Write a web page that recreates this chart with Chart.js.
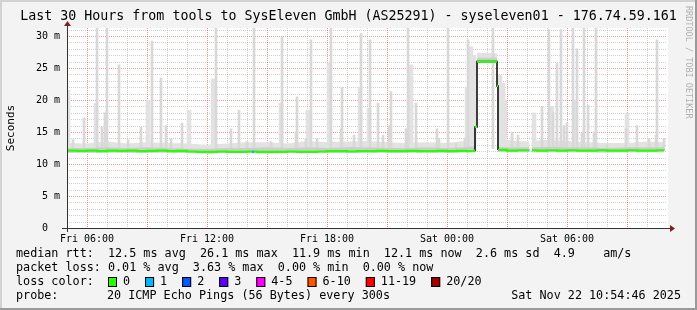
<!DOCTYPE html>
<html><head><meta charset="utf-8">
<script src="https://cdn.jsdelivr.net/npm/chart.js@4.4.1/dist/chart.umd.min.js"></script>
<style>html,body{margin:0;padding:0;background:#f3f3f3;}canvas{display:block}</style>
</head><body>
<canvas id="c" width="697" height="310"></canvas>
<script>
// ---------- text ----------
const titleText = "Last 30 Hours from tools to SysEleven GmbH (AS25291) - syseleven01 - 176.74.59.161";
const yAxisTitle = "Seconds";
const sideText = "RRDTOOL / TOBI OETIKER";
// ---------- ticks ----------
const xTickHours = [1, 7, 13, 19, 25];               // hours after Fri 05:00
const xTickLabels = ["Fri 06:00", "Fri 12:00", "Fri 18:00", "Sat 00:00", "Sat 06:00"];
const yTickValues = [0, 5, 10, 15, 20, 25, 30];      // milliseconds
const yTickLabels = ["0  ", "5 m", "10 m", "15 m", "20 m", "25 m", "30 m"];
// ---------- median rtt (ms), hours after Fri 05:00 ----------
const medianHours = [0,0.5,1,1.5,2,2.5,3,3.5,4,4.5,5,5.5,6,6.5,7,7.5,8,8.5,9,9.5,10,10.5,11,11.5,12,
  12.5,13,13.5,14,14.5,15,15.5,16,16.5,17,17.5,18,18.5,19,19.5,20,20.35,20.4,
  20.4,20.4,20.5,20.5,20.5,21.5,21.5,21.5,21.55,21.55,
  21.55,22,22.5,23.1,23.15,23.25,23.5,24,24.5,25,25.5,26,26.5,27,27.5,28,28.5,29,29.5,29.85];
const medianValues = [12.1,12.05,12.1,12.0,12.1,12.05,12.1,12.0,12.05,12.1,12.0,12.05,11.95,11.9,11.9,11.95,11.9,11.9,11.95,11.9,11.9,11.9,11.95,11.9,11.9,
  11.95,12.0,12.0,11.95,12.0,12.0,12.05,12.0,12.0,12.05,12.0,12.0,12.05,12.0,12.05,12.0,12.1,12.1,
  null,15.8,15.8,null,26.0,26.0,null,22.2,22.2,null,
  12.2,12.1,12.15,12.1,null,12.15,12.1,12.15,12.1,12.15,12.1,12.1,12.15,12.1,12.1,12.15,12.1,12.1,12.15,12.1];
// large median changes (drawn black)
const jumpHours = [20.35, 20.4, 20.5, 21.5, 21.55];
const jumpValues = [12.1, 15.8, 26.0, 22.2, 12.2];
// sample with 1 lost packet
const loss1Hours = [9.25, 9.35];
const loss1Values = [11.9, 11.9];
// ---------- smoke band ----------
const bandHours = [0,1,2,3,4,5,6,7,8,9,10,11,12,13,14,15,16,17,18,19,19.8,20.4,20.5,21.5,21.55,22,22.5,23.1,23.15,23.25,24,25,26,27,28,29,29.85];
const bandHigh  = [13.3,13.2,13.5,13.2,13.4,13.3,13.2,13.0,13.2,13.4,13.4,13.2,13.6,13.4,13.5,13.6,13.4,13.3,13.4,13.3,13.6,14.0,27.4,27.3,14.2,13.8,13.6,13.5,null,13.6,13.8,13.6,13.4,13.3,13.3,13.5,13.4];
const bandMid   = [12.5,12.5,12.6,12.5,12.6,12.5,12.4,12.4,12.5,12.5,12.6,12.5,12.6,12.5,12.6,12.6,12.5,12.5,12.6,12.5,12.6,12.8,26.6,26.6,12.7,12.6,12.6,12.6,null,12.6,12.7,12.6,12.6,12.5,12.6,12.6,12.6];
const bandLow   = [11.75,11.75,11.8,11.75,11.75,11.8,11.7,11.65,11.7,11.7,11.65,11.7,11.7,11.75,11.75,11.8,11.75,11.75,11.8,11.75,11.8,11.9,25.8,25.8,11.9,11.85,11.85,11.85,null,11.85,11.85,11.85,11.85,11.8,11.85,11.85,11.85];
// ---------- smoke spikes (max ping of a sample) ----------
const spikeBase = 12.4;
const thinSpikeHours = [0.30,0.85,1.50,1.75,1.90,2.00,2.60,3.05,3.70,4.25,4.70,4.95,5.20,5.75,7.45,8.20,8.60,9.00,9.35,10.20,10.75,11.45,11.50,11.95,12.20,12.50,13.20,13.70,13.75,14.35,14.70,15.15,15.55,15.80,16.10,16.20,16.95,17.05,17.45,18.50,18.60,19.05,19.45,19.90,20.05,21.30,22.25,22.55,23.75,24.10,24.30,24.50,24.70,24.85,25.00,25.30,25.50,25.75,25.85,26.05,26.35,26.45,27.00,27.95,28.50,29.10,29.45,29.50,29.85];
const thinSpikeTops  = [13.8,17.2,31.5,15.8,18.0,31.5,25.5,13.8,15.8,29.2,23.4,16.0,14.0,16.4,31.5,15.5,18.4,13.5,31.5,13.5,29.8,15.0,20.5,14.0,29.4,14.0,31.5,15.5,22.0,14.5,30.4,29.4,19.5,14.5,16.0,21.3,15.5,31.2,19.5,15.5,14.0,31.5,13.2,14.0,29.4,31.2,15.0,14.5,19.0,31.0,18.0,25.7,31.0,16.0,16.4,31.5,28.0,15.0,31.5,19.2,15.0,31.5,13.0,15.5,16.0,14.0,14.5,29.4,14.0];
const wideSpikeHours = [0.05,1.45,4.05,6.10,7.30,10.70,12.05,13.10,14.65,15.10,17.20,20.00,20.20,20.35,21.65,21.80,21.90,23.35,24.25,25.40,28.00];
const wideSpikeTops  = [21.5,19.5,20.0,18.4,23.3,19.5,18.4,25.8,22.0,18.7,25.5,22.0,28.3,27.0,23.9,22.6,20.0,18.0,19.0,20.0,18.0];
// ---------- legend ----------
const legendRow1 = "median rtt:  12.5 ms avg  26.1 ms max  11.9 ms min  12.1 ms now  2.6 ms sd  4.9    am/s";
const legendRow2 = "packet loss: 0.01 % avg  3.63 % max  0.00 % min  0.00 % now";
const lossLabelHead = "loss color:";
const lossLabels = ["0", "1", "2", "3", "4-5", "6-10", "11-19", "20/20"];
const lossColors = ["#26ff00", "#00b8ff", "#0059ff", "#5e00ff", "#ff00ff", "#ff5500", "#ff0000", "#a10000"];
const probeHead = "probe:";
const probeText = "20 ICMP Echo Pings (56 Bytes) every 300s";
const stampText = "Sat Nov 22 10:54:46 2025";

const MONO = '"DejaVu Sans Mono", monospace';
const pts = (xs, ys) => xs.map((x, i) => ({x: x, y: ys[i]}));
const bars = (xs, tops, base) => xs.map((x, i) => ({x: x, y: [base, tops[i]]}));

const deco = {
  id: 'deco',
  beforeDraw(c) {
    const g = c.ctx, a = c.chartArea;
    g.save();
    g.fillStyle = '#f3f3f3'; g.fillRect(0, 0, 697, 310);
    g.fillStyle = '#d2d2d2'; g.fillRect(0, 0, 697, 2); g.fillRect(0, 0, 2, 310);
    g.fillStyle = '#9a9a9a'; g.fillRect(0, 308, 697, 2); g.fillRect(695, 0, 2, 310);
    g.fillStyle = '#ffffff'; g.fillRect(a.left, a.top, a.right - a.left + 1, a.bottom - a.top);
    g.fillStyle = '#000';
    g.font = '13.3px ' + MONO; g.textAlign = 'center'; g.textBaseline = 'middle';
    g.fillText(titleText, 348.5, 17);
    g.save(); g.translate(11, (a.top + a.bottom) / 2); g.rotate(-Math.PI / 2);
    g.font = '11px ' + MONO; g.fillText(yAxisTitle, 0, 0); g.restore();
    g.save(); g.translate(688, 6); g.rotate(Math.PI / 2);
    g.font = '8.5px ' + MONO; g.fillStyle = '#b0b0b0'; g.textAlign = 'left';
    g.fillText(sideText, 0, 0); g.restore();
    g.restore();
  },
  beforeDatasetsDraw(c) {
    const g = c.ctx, a = c.chartArea, xs = c.scales.x, ys = c.scales.y;
    g.save(); g.lineWidth = 1; g.setLineDash([1, 1]);
    for (let v = 1; v <= Math.floor(ys.max); v++) {
      const y = Math.round(ys.getPixelForValue(v)) + 0.5;
      g.strokeStyle = v % 5 === 0 ? 'rgba(220,70,70,0.55)' : 'rgba(150,150,150,0.45)';
      g.beginPath(); g.moveTo(a.left, y); g.lineTo(a.right, y); g.stroke();
    }
    for (let h = 1; h < xs.max; h++) {
      const x = Math.round(xs.getPixelForValue(h)) + 0.5;
      g.strokeStyle = (h - 1) % 3 === 0 ? 'rgba(220,70,70,0.55)' : 'rgba(150,150,150,0.45)';
      g.beginPath(); g.moveTo(x, a.top); g.lineTo(x, a.bottom); g.stroke();
    }
    g.restore();
  },
  afterDatasetsDraw(c) {
    const g = c.ctx, a = c.chartArea;
    g.save();
    g.strokeStyle = '#333'; g.lineWidth = 1;
    const yb = a.bottom + 0.5, xl = a.left + 0.5;
    g.beginPath(); g.moveTo(a.left - 5, yb); g.lineTo(a.right + 3, yb); g.stroke();
    g.beginPath(); g.moveTo(xl, a.bottom + 4); g.lineTo(xl, a.top - 4); g.stroke();
    g.fillStyle = '#7f1f1f';
    g.beginPath(); g.moveTo(a.right + 3, yb - 3.5); g.lineTo(a.right + 8, yb); g.lineTo(a.right + 3, yb + 3.5); g.closePath(); g.fill();
    g.beginPath(); g.moveTo(xl - 3.5, a.top - 2); g.lineTo(xl, a.top - 7); g.lineTo(xl + 3.5, a.top - 2); g.closePath(); g.fill();
    g.restore();
  },
  afterDraw(c) {
    const g = c.ctx;
    g.save();
    g.font = '11.75px ' + MONO; g.fillStyle = '#000'; g.textBaseline = 'middle'; g.textAlign = 'left';
    g.fillText(legendRow1, 16, 254);
    g.fillText(legendRow2, 16, 268);
    g.fillText(lossLabelHead, 16, 282);
    let x = 108;
    lossLabels.forEach((lab, i) => {
      g.fillStyle = lossColors[i]; g.fillRect(x, 277, 9, 10);
      g.strokeStyle = '#000'; g.lineWidth = 1; g.strokeRect(x + 0.5, 277.5, 8, 9);
      g.fillStyle = '#000'; g.fillText(lab, x + 15, 282);
      x = x + 15 + g.measureText(lab).width + 15;
    });
    g.fillText(probeHead, 16, 296);
    g.fillText(probeText, 107, 296);
    g.textAlign = 'right'; g.fillText(stampText, 681, 296);
    g.restore();
  }
};

new Chart(document.getElementById('c'), {
  type: 'line',
  data: {
    datasets: [
      {type: 'line', data: pts(bandHours, bandHigh), fill: 1, backgroundColor: '#e2e2e2', borderWidth: 0, pointRadius: 0, order: 10},
      {type: 'line', data: pts(bandHours, bandLow), fill: false, borderWidth: 0, pointRadius: 0, order: 10},
      {type: 'bar', data: bars(wideSpikeHours, wideSpikeTops, spikeBase), backgroundColor: '#e2e2e2', barThickness: 4, grouped: false, order: 9},
      {type: 'bar', data: bars(thinSpikeHours, thinSpikeTops, spikeBase), backgroundColor: '#d8d8d8', barThickness: 2, grouped: false, order: 8},
      {type: 'line', data: pts(bandHours, bandMid), fill: 1, backgroundColor: '#cdcdcd', borderWidth: 0, pointRadius: 0, order: 7},
      {type: 'line', data: pts(jumpHours, jumpValues), stepped: 'before', borderColor: '#000', borderWidth: 1.5, pointRadius: 0, fill: false, order: 2},
      {type: 'line', data: pts(medianHours, medianValues), stepped: 'before', borderColor: '#26ff00', borderWidth: 2.2, pointRadius: 0, fill: false, spanGaps: false, order: 1},
      {type: 'line', data: pts(loss1Hours, loss1Values), borderColor: '#00b8ff', borderWidth: 2.2, pointRadius: 0, fill: false, order: 0}
    ]
  },
  options: {
    responsive: false, animation: false, events: [],
    layout: {padding: {left: 0, right: 30, top: 28, bottom: 0}},
    plugins: {legend: {display: false}, tooltip: {enabled: false}, title: {display: false}},
    scales: {
      x: {
        type: 'linear', min: 0, max: 30, offset: false,
        grid: {display: false, drawTicks: false}, border: {display: false},
        afterBuildTicks: s => { s.ticks = xTickHours.map(v => ({value: v})); },
        afterFit: s => { s.height = 82; },
        ticks: {autoSkip: false, maxRotation: 0, padding: 5, color: '#000', font: {family: MONO, size: 10},
          callback: v => xTickLabels[xTickHours.indexOf(v)]}
      },
      y: {
        type: 'linear', min: 0, max: 31.25,
        grid: {display: false, drawTicks: false}, border: {display: false},
        afterBuildTicks: s => { s.ticks = yTickValues.map(v => ({value: v})); },
        afterFit: s => { s.width = 67; },
        ticks: {padding: 7, color: '#000', font: {family: MONO, size: 10},
          callback: v => yTickLabels[yTickValues.indexOf(v)]}
      }
    }
  },
  plugins: [deco]
});
</script>
</body></html>
